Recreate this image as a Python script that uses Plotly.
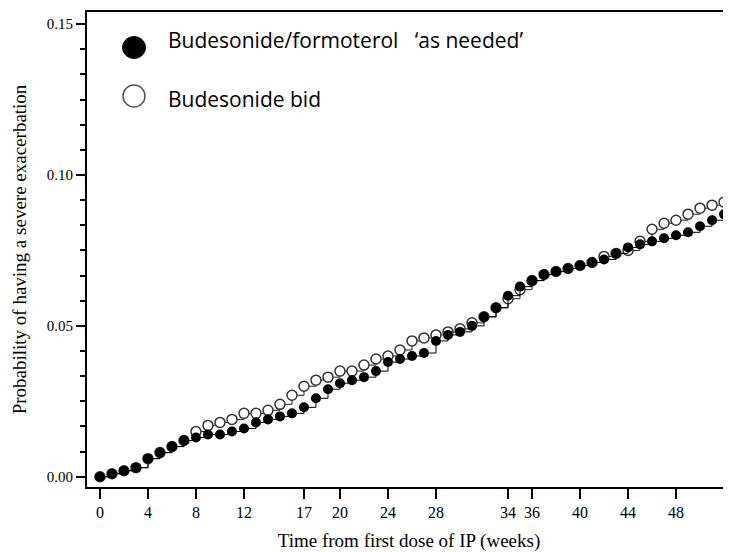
import plotly.graph_objects as go

weeks = list(range(0, 53))
as_needed = [0.000, 0.001, 0.002, 0.003, 0.006, 0.008, 0.010, 0.012, 0.013, 0.014,
             0.014, 0.015, 0.016, 0.018, 0.019, 0.020, 0.021, 0.023, 0.026, 0.029,
             0.031, 0.032, 0.033, 0.035, 0.038, 0.039, 0.040, 0.041, 0.045, 0.047,
             0.048, 0.050, 0.053, 0.056, 0.060, 0.063, 0.065, 0.067, 0.068, 0.069,
             0.070, 0.071, 0.072, 0.074, 0.076, 0.077, 0.078, 0.079, 0.080, 0.081,
             0.083, 0.085, 0.087]
bid = [0.000, 0.001, 0.002, 0.003, 0.006, 0.008, 0.010, 0.012, 0.015, 0.017,
       0.018, 0.019, 0.021, 0.021, 0.022, 0.024, 0.027, 0.030, 0.032, 0.033,
       0.035, 0.035, 0.037, 0.039, 0.040, 0.042, 0.045, 0.046, 0.047, 0.048,
       0.049, 0.051, 0.053, 0.056, 0.059, 0.062, 0.065, 0.067, 0.068, 0.069,
       0.070, 0.071, 0.073, 0.074, 0.075, 0.078, 0.082, 0.084, 0.085, 0.087,
       0.089, 0.090, 0.091]
x_ticks = [0, 4, 8, 12, 17, 20, 24, 28, 34, 36, 40, 44, 48]
series_names = ["Budesonide/formoterol\u00a0\u00a0\u00a0\u2018as needed\u2019", "Budesonide bid"]

serif = "Liberation Serif, Times New Roman, serif"
sans = "Open Sans, Noto Sans, sans-serif"

# the page body has an 8px margin, so the figure is drawn 8px smaller
W, H = 723, 544
ML, MT, MB = 79, 4, 65
PW, PH = W - ML, H - MT - MB

fig = go.Figure()
fig.add_trace(go.Scatter(
    x=weeks, y=bid, mode="lines+markers", line=dict(color="#222", width=1, shape="hv"),
    marker=dict(symbol="circle", size=10, color="white", line=dict(color="#333", width=1.5)),
    name=series_names[1], showlegend=False))
fig.add_trace(go.Scatter(
    x=weeks, y=as_needed, mode="lines+markers", line=dict(color="black", width=1, shape="hv"),
    marker=dict(symbol="circle", size=10, color="black"),
    name=series_names[0], showlegend=False))

# manual legend (large markers); screen pixel -> paper coords
def px_x(p):
    return (p - 8 - ML) / PW

def px_y(p):
    return 1 - (p - 8 - MT) / PH

fig.add_shape(type="circle", xref="paper", yref="paper", xsizemode="pixel", ysizemode="pixel",
              xanchor=px_x(134), yanchor=px_y(47.5), x0=-11.5, x1=11.5, y0=-11, y1=11,
              fillcolor="black", line=dict(color="black", width=1))
fig.add_shape(type="circle", xref="paper", yref="paper", xsizemode="pixel", ysizemode="pixel",
              xanchor=px_x(134), yanchor=px_y(96), x0=-11, x1=11, y0=-11, y1=11,
              fillcolor="white", line=dict(color="#555", width=1.5))
fig.add_annotation(xref="paper", yref="paper", x=px_x(166), y=px_y(40), xanchor="left", yanchor="middle",
                   text=series_names[0], showarrow=False,
                   font=dict(family=sans, size=21, color="black"))
fig.add_annotation(xref="paper", yref="paper", x=px_x(166), y=px_y(99), xanchor="left", yanchor="middle",
                   text=series_names[1], showarrow=False,
                   font=dict(family=sans, size=21, color="black"))

fig.update_layout(
    width=W, height=H,
    margin=dict(l=ML, r=0, t=MT, b=MB),
    plot_bgcolor="white", paper_bgcolor="white",
    showlegend=False,
    xaxis=dict(
        range=[-1.08, 52.58], tickmode="array", tickvals=x_ticks,
        ticktext=[str(v) for v in x_ticks], automargin=False,
        showgrid=False, zeroline=False,
        showline=True, linecolor="black", linewidth=2, mirror=True,
        ticks="outside", ticklen=10, tickwidth=2, tickcolor="black",
        tickfont=dict(family=serif, size=16, color="black"),
        title=dict(text="Time from first dose of IP (weeks)",
                   font=dict(family=serif, size=19, color="black"), standoff=14),
    ),
    yaxis=dict(
        range=[-0.0034, 0.154], tickmode="linear", tick0=0, dtick=0.05, tickformat=".2f",
        automargin=False,
        showgrid=False, zeroline=False,
        showline=True, linecolor="black", linewidth=2,
        ticks="outside", ticklen=9, tickwidth=2, tickcolor="black",
        minor=dict(dtick=0.05 / 6, tick0=0, ticks="outside", ticklen=5, tickwidth=2, tickcolor="black"),
        tickfont=dict(family=serif, size=15, color="black"),
        title=dict(text="Probability of having a severe exacerbation",
                   font=dict(family=serif, size=19, color="black"), standoff=15),
    ),
)

fig.write_html("out.html")
